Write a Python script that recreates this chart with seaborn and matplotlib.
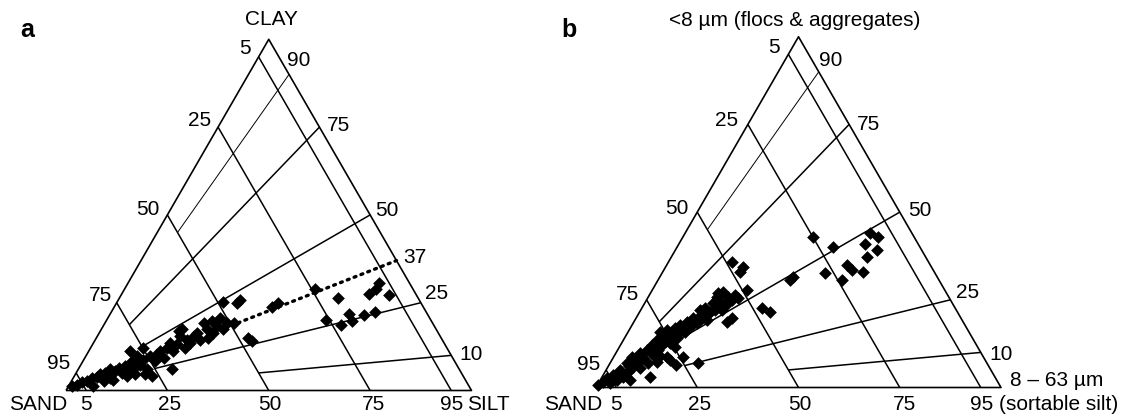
import numpy as np
import pandas as pd
import matplotlib
matplotlib.use("Agg")
import matplotlib.pyplot as plt
import seaborn as sns

# ---------------- data (percent) ----------------
a_silt = [0.8, 1.8, 2.7, 3.8, 4.5, 5.6, 6.1, 7.1, 7.9, 9.1, 9.4, 9.7, 11.3, 11.1, 12.4, 12.0,
          13.4, 12.6, 14.6, 14.7, 16.9, 15.8, 19.1, 17.8, 17.2, 17.6, 19.4, 18.8, 18.9, 20.9,
          20.8, 20.4, 19.9, 23.3, 22.6, 23.8, 23.7, 24.0, 25.8, 24.3, 26.0, 27.6, 26.1, 28.1,
          28.1, 27.7, 30.1, 30.0, 17.2, 10.1, 6.1, 7.9, 12.9, 14.7, 26.2, 29.6, 30.0, 31.7,
          37.5, 38.8, 23.1, 47.0, 54.0, 61.9, 60.9, 62.0, 66.0, 54.1, 58.4, 58.9, 60.6, 62.7,
          65.1, 38.9, 40.0, 10.2, 13.0, 19.3]
a_clay = [1.2, 1.7, 2.4, 2.7, 3.6, 3.9, 4.6, 5.0, 6.0, 3.6, 5.5, 6.5, 5.0, 6.9, 6.0, 8.4,
          6.5, 9.8, 7.4, 8.8, 6.0, 9.8, 4.1, 8.4, 10.3, 11.2, 9.3, 12.2, 13.6, 11.2,
          13.1, 15.5, 17.4, 12.2, 14.5, 13.6, 15.5, 16.5, 14.5, 19.3, 17.4, 15.0, 19.8, 16.5,
          18.3, 20.7, 17.4, 19.3, 4.6, 3.1, 1.2, 2.7, 4.1, 4.6, 25.2, 25.0, 25.9, 19.3,
          15.0, 14.1, 6.0, 29.0, 26.4, 30.5, 27.4, 29.0, 27.1, 20.2, 18.6, 21.7, 19.8, 21.4,
          22.4, 23.9, 24.8, 11.2, 12.2, 16.9]

b_silt = [0.2, 1.0, 1.3, 2.9, 2.5, 4.05, 3.4, 5.2, 4.1, 5.7, 4.4, 6.25, 6.3, 6.0, 8.1, 7.55,
          7.15, 9.45, 7.7, 9.5, 8.25, 10.05, 7.85, 10.15, 9.75, 9.25, 12.0, 10.95, 11.05, 12.9,
          11.8, 13.4, 13.0, 14.55, 14.15, 15.75, 14.65, 16.25, 15.6, 16.95, 17.35, 17.0, 18.35,
          16.75, 18.35, 17.75, 19.85, 19.75, 21.0, 21.1, 22.4, 16.85, 19.95, 11.75, 13.05, 14.4,
          7.35, 11.3, 15.55, 19.2, 19.1, 23.3, 29.6, 32.2, 22.9, 23.65, 17.2, 16.55, 21.85,
          32.25, 38.6, 45.65, 48.2, 45.95, 49.7, 48.35, 44.45, 46.35, 49.35, 40.15, 45.4, 32.9, 32.6,
          2.0, 3.5, 5.0, 6.8, 8.6, 10.8, 12.5, 14.0, 15.5, 17.8, 19.0, 20.3, 8.9, 11.2, 13.8]
b_clay = [0.7, 1.65, 2.6, 1.2, 3.6, 2.1, 5.0, 3.1, 6.9, 4.5, 8.8, 5.9, 7.4, 9.75, 5.5, 8.3,
          10.7, 6.9, 12.1, 9.3, 13.5, 10.7, 15.9, 12.1, 14.5, 16.4, 12.6, 15.5, 16.9, 14.0,
          17.8, 16.4, 18.8, 17.3, 19.7, 18.3, 22.1, 19.7, 22.6, 20.7, 21.6, 24.0, 22.1,
          26.9, 24.5, 27.3, 24.0, 25.9, 24.95, 26.4, 25.4, 25.9, 22.1, 3.1, 8.8, 7.8,
          2.1, 7.4, 35.9, 34.4, 33.0, 27.8, 22.6, 21.6, 18.8, 19.7, 8.8, 6.4, 6.9,
          42.8, 40.0, 44.0, 43.0, 40.9, 39.2, 37.3, 34.9, 33.5, 33.0, 32.7, 30.65, 31.6, 30.65,
          2.2, 4.3, 6.2, 7.5, 11.0, 13.2, 15.0, 15.8, 20.8, 19.2, 23.0, 23.5, 10.5, 9.0, 11.5]

grid_levels = [5, 25, 50, 75, 95]                 # sand-line / edge tick labels
a_ratio_levels = [90, 75, 50, 37, 25, 10]          # clay/(clay+silt) %
a_ratio_inner = [50, 75, 75, 50, 75, 50]           # sand % where the ratio line stops
b_ratio_levels = [90, 75, 50, 25, 10]
b_ratio_inner = [50, 75, 75, 75, 50]

# ---------------- figure ----------------
sns.set_theme(style="white")
plt.rcParams['font.family'] = ['Liberation Sans', 'DejaVu Sans']
plt.rcParams['text.color'] = 'black'

fig = plt.figure(figsize=(11.23, 4.2), dpi=100)
ax = fig.add_axes([0, 0, 1, 1])
ax.set_xlim(0, 1123)
ax.set_ylim(420, 0)
ax.axis("off")

FS = 15

def make_tern(x0, y0, w):
    h = w * np.sqrt(3) / 2
    def to_xy(silt, clay):
        silt = np.asarray(silt, float) / 100
        clay = np.asarray(clay, float) / 100
        return x0 + w * (silt + clay / 2), y0 - h * clay
    return to_xy

def draw_panel(to_xy, ratio_levels, ratio_inner, dotted=None):
    k = dict(color="black", solid_capstyle="butt")
    xs, ys = to_xy([0, 100, 0, 0], [0, 0, 100, 0])
    ax.plot(xs, ys, lw=1.2, **k)
    for s in grid_levels:
        xs, ys = to_xy([0, 100 - s], [100 - s, 0])
        ax.plot(xs, ys, lw=1.1, **k)
    for r, s0 in zip(ratio_levels, ratio_inner):
        fine = np.array([100 - s0, 100.0])
        xs, ys = to_xy(fine * (100 - r) / 100, fine * r / 100)
        if r == dotted:
            ax.plot(xs, ys, color="black", lw=2.4, linestyle=(0, (0.6, 1.6)),
                    dash_capstyle="round")
        else:
            ax.plot(xs, ys, lw=0.7 if r == 90 else 1.1, **k)

def scatter(to_xy, silt, clay):
    xs, ys = to_xy(silt, clay)
    df = pd.DataFrame({"x": xs, "y": ys})
    sns.scatterplot(data=df, x="x", y="y", ax=ax, marker="D", s=42, color="black",
                    linewidth=0, legend=False, zorder=5)

ta = make_tern(66, 390.5, 405.5)
draw_panel(ta, a_ratio_levels, a_ratio_inner, dotted=37)
scatter(ta, a_silt, a_clay)

tb = make_tern(596, 387.5, 405.0)
draw_panel(tb, b_ratio_levels, b_ratio_inner)
scatter(tb, b_silt, b_clay)

ax.set_xlabel(""); ax.set_ylabel("")

def t(x, y, s, ha="center", va="center", **kw):
    ax.text(x, y, s, ha=ha, va=va, fontsize=kw.pop("fs", FS), color="black", **kw)

# ---- texts panel a
t(20, 37, "a", ha="left", va="baseline", fs=18, fontweight="bold")
t(271, 19.5, "CLAY")
left_a = {5: (251, 48.5), 25: (211, 120.5), 50: (160, 209.5), 75: (112, 295.5), 95: (70, 363.5)}
for lv in grid_levels:
    x, y = left_a[lv]
    t(x, y, str(lv), ha="right")
bot_a = {5: 86, 25: 170, 50: 270, 75: 373.5, 95: 451.5}
for lv in grid_levels:
    t(bot_a[lv], 405, str(lv))
t(38.5, 405, "SAND")
t(488.5, 405, "SILT")
right_a = {90: 60.5, 75: 125.5, 50: 211, 37: 257.5, 25: 293.5, 10: 354.5}
right_ax = {90: 287, 75: 327, 50: 375, 37: 403, 25: 425, 10: 459}
for r in a_ratio_levels:
    t(right_ax[r], right_a[r], str(r), ha="left")

# ---- texts panel b
t(561, 37, "b", ha="left", va="baseline", fs=18, fontweight="bold")
t(795, 20, "<8 µm (flocs & aggregates)")
left_b = {5: (780, 47.5), 25: (738, 120.5), 50: (689, 208.5), 75: (639, 295), 95: (600, 365)}
for lv in grid_levels:
    x, y = left_b[lv]
    t(x, y, str(lv), ha="right")
bot_b = {5: 616, 25: 700, 50: 800, 75: 905}
for lv in grid_levels[:-1]:
    t(bot_b[lv], 405, str(lv))
t(970, 405, "95 (sortable silt)", ha="left")
t(573.5, 405, "SAND")
t(1010, 380.5, "8 – 63 µm", ha="left")
right_b = {90: 60.5, 75: 124.5, 50: 210.5, 25: 292.5, 10: 354}
right_bx = {90: 819, 75: 857, 50: 908, 25: 956, 10: 989}
for r in b_ratio_levels:
    t(right_bx[r], right_b[r], str(r), ha="left")

fig.savefig("out.png", dpi=100)
